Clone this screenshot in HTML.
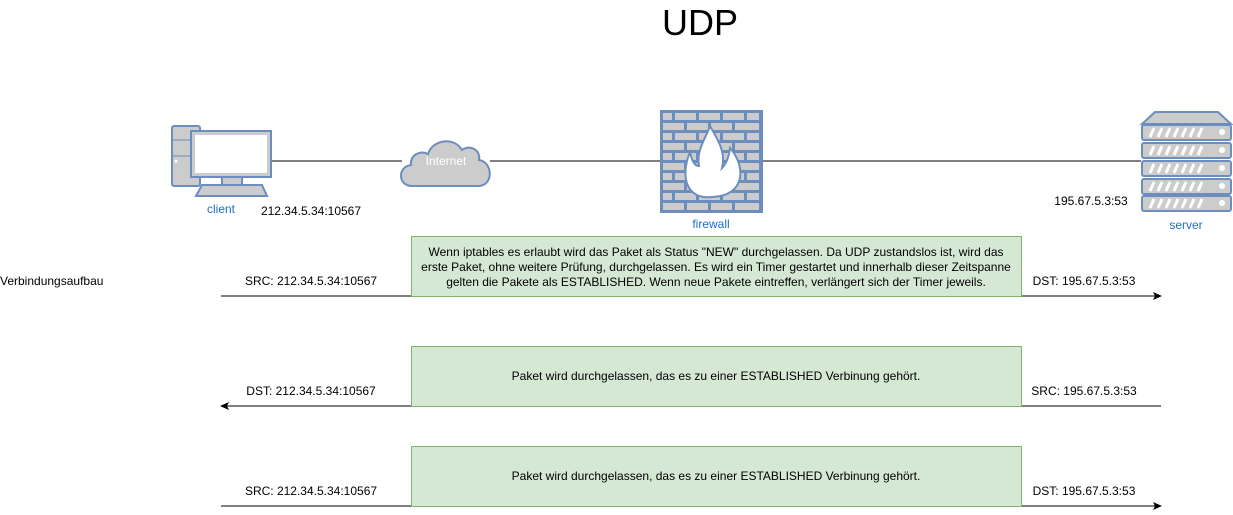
<!DOCTYPE html>
<html><head><meta charset="utf-8"><style>
html,body{margin:0;padding:0;background:#fff;}
svg{display:block;font-family:"Liberation Sans",Arial,sans-serif;}
</style></head><body>
<svg width="1233" height="515" viewBox="0 0 1233 515" xmlns="http://www.w3.org/2000/svg">
<defs>
<pattern id="brick" x="661" y="111" width="100" height="20" patternUnits="userSpaceOnUse">
<rect x="0" y="0" width="100" height="20" fill="#6c8ebf"/>
<rect x="2" y="2" width="9" height="7" fill="#cccccc"/>
<rect x="14" y="2" width="21" height="7" fill="#cccccc"/>
<rect x="38" y="2" width="21" height="7" fill="#cccccc"/>
<rect x="62" y="2" width="21" height="7" fill="#cccccc"/>
<rect x="86" y="2" width="12" height="7" fill="#cccccc"/>
<rect x="2" y="12" width="21" height="7" fill="#cccccc"/>
<rect x="26" y="12" width="21" height="7" fill="#cccccc"/>
<rect x="50" y="12" width="21" height="7" fill="#cccccc"/>
<rect x="74" y="12" width="24" height="7" fill="#cccccc"/>
</pattern>
<marker id="ar" markerWidth="10" markerHeight="10" refX="8" refY="5" orient="auto" markerUnits="userSpaceOnUse">
<path d="M0,1 L9,5 L0,9 L2,5 Z" fill="#000"/>
</marker>
</defs>

<text x="700" y="35" font-size="36" text-anchor="middle">UDP</text>

<line x1="272" y1="161" x2="402" y2="161" stroke="#000"/>
<line x1="490" y1="161" x2="661" y2="161" stroke="#000"/>
<line x1="762" y1="161" x2="1141" y2="161" stroke="#000"/>

<!-- client -->
<g stroke="#6c8ebf" stroke-width="2" fill="#cccccc">
<rect x="172" y="126" width="28" height="60" rx="2"/>
<rect x="191" y="131" width="80" height="46"/>
<rect x="222" y="177" width="20" height="8"/>
<path d="M202,185 L262,185 L267,196 L196,196 Z"/>
</g>
<rect x="195" y="135" width="72" height="38" fill="#fff"/>
<line x1="173" y1="140" x2="190" y2="140" stroke="#6c8ebf"/>
<line x1="173" y1="156" x2="190" y2="156" stroke="#6c8ebf"/>
<circle cx="176" cy="161" r="1.5" fill="#fff"/>
<text x="221" y="213" font-size="12" fill="#1a6fcf" text-anchor="middle">client</text>
<text x="311" y="215" font-size="12" text-anchor="middle">212.34.5.34:10567</text>

<!-- cloud -->
<path d="M412,186 C398,186 397,167 411,165 C410,155 420,150 428,154 C432,140 454,136 462,150 C470,144 481,150 479,160 C493,162 494,186 478,186 Z" fill="#cccccc" stroke="#6c8ebf" stroke-width="2"/>
<text x="446" y="165" font-size="12" fill="#fff" text-anchor="middle">Internet</text>

<!-- firewall -->
<rect x="661" y="111" width="101" height="101" fill="url(#brick)" stroke="#6c8ebf" stroke-width="2"/>
<path d="M712,197 C686,200 680,176 690,152 C692,162 695,166 699,166 C696,150 706,138 710,126 C718,140 726,152 722,168 C727,163 729,156 730,148 C746,166 746,196 712,197 Z" fill="#fff" stroke="#6c8ebf" stroke-width="2"/>
<text x="711" y="228" font-size="12" fill="#1a6fcf" text-anchor="middle">firewall</text>

<!-- server -->
<path d="M1142,124 L1155,112 L1218,112 L1231,124 Z" fill="#cccccc" stroke="#6c8ebf" stroke-width="2"/>
<g stroke="#6c8ebf" stroke-width="2" fill="#cccccc">
<rect x="1142" y="125" width="89" height="15" rx="2"/>
<rect x="1142" y="143" width="89" height="15" rx="2"/>
<rect x="1142" y="161" width="89" height="15" rx="2"/>
<rect x="1142" y="179" width="89" height="15" rx="2"/>
<rect x="1142" y="196" width="89" height="15" rx="2"/>
</g>
<g stroke="#fff" stroke-width="3">
<path d="M1150,137 l4,-9 M1158,137 l4,-9 M1166,137 l4,-9 M1174,137 l4,-9 M1182,137 l4,-9 M1190,137 l4,-9 M1198,137 l4,-9"/>
<path d="M1150,155 l4,-9 M1158,155 l4,-9 M1166,155 l4,-9 M1174,155 l4,-9 M1182,155 l4,-9 M1190,155 l4,-9 M1198,155 l4,-9"/>
<path d="M1150,173 l4,-9 M1158,173 l4,-9 M1166,173 l4,-9 M1174,173 l4,-9 M1182,173 l4,-9 M1190,173 l4,-9 M1198,173 l4,-9"/>
<path d="M1150,191 l4,-9 M1158,191 l4,-9 M1166,191 l4,-9 M1174,191 l4,-9 M1182,191 l4,-9 M1190,191 l4,-9 M1198,191 l4,-9"/>
<path d="M1150,208 l4,-9 M1158,208 l4,-9 M1166,208 l4,-9 M1174,208 l4,-9 M1182,208 l4,-9 M1190,208 l4,-9 M1198,208 l4,-9"/>
</g>
<g fill="#fff">
<circle cx="1222" cy="132" r="3"/><circle cx="1222" cy="150" r="3"/><circle cx="1222" cy="168" r="3"/><circle cx="1222" cy="186" r="3"/><circle cx="1222" cy="203" r="3"/>
</g>
<text x="1091" y="205" font-size="12" text-anchor="middle">195.67.5.3:53</text>
<text x="1186" y="229" font-size="12" fill="#1a6fcf" text-anchor="middle">server</text>

<!-- row 1 -->
<text x="0" y="285" font-size="12">Verbindungsaufbau</text>
<line x1="221" y1="296" x2="1161" y2="296" stroke="#000" marker-end="url(#ar)"/>
<rect x="411.5" y="236.5" width="610" height="60" fill="#d5e8d4" stroke="#82b366"/>
<g font-size="12" text-anchor="middle">
<text x="716" y="256">Wenn iptables es erlaubt wird das Paket als Status "NEW" durchgelassen. Da UDP zustandslos ist, wird das</text>
<text x="716" y="271">erste Paket, ohne weitere Prüfung, durchgelassen. Es wird ein Timer gestartet und innerhalb dieser Zeitspanne</text>
<text x="716" y="286">gelten die Pakete als ESTABLISHED. Wenn neue Pakete eintreffen, verlängert sich der Timer jeweils.</text>
<text x="311" y="285">SRC: 212.34.5.34:10567</text>
<text x="1084" y="285">DST: 195.67.5.3:53</text>
</g>

<!-- row 2 -->
<line x1="1161" y1="406" x2="221" y2="406" stroke="#000" marker-end="url(#ar)"/>
<rect x="411.5" y="346.5" width="610" height="60" fill="#d5e8d4" stroke="#82b366"/>
<g font-size="12" text-anchor="middle">
<text x="716" y="380">Paket wird durchgelassen, das es zu einer ESTABLISHED Verbinung gehört.</text>
<text x="311" y="395">DST: 212.34.5.34:10567</text>
<text x="1084" y="395">SRC: 195.67.5.3:53</text>
</g>

<!-- row 3 -->
<line x1="221" y1="506" x2="1161" y2="506" stroke="#000" marker-end="url(#ar)"/>
<rect x="411.5" y="446.5" width="610" height="60" fill="#d5e8d4" stroke="#82b366"/>
<g font-size="12" text-anchor="middle">
<text x="716" y="480">Paket wird durchgelassen, das es zu einer ESTABLISHED Verbinung gehört.</text>
<text x="311" y="495">SRC: 212.34.5.34:10567</text>
<text x="1084" y="495">DST: 195.67.5.3:53</text>
</g>
</svg>
</body></html>
